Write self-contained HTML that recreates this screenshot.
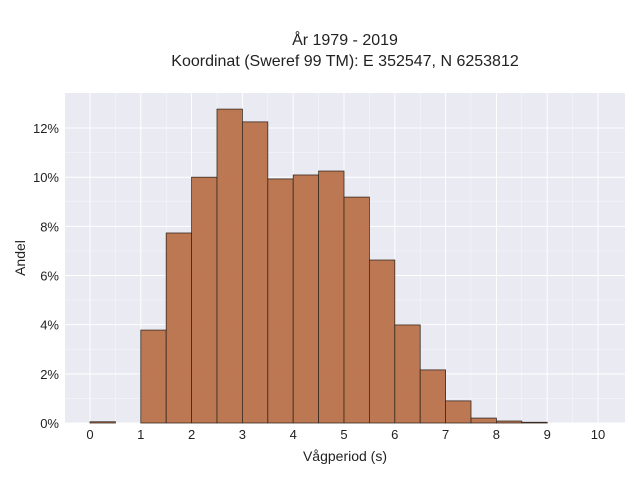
<!DOCTYPE html>
<html><head><meta charset="utf-8"><style>
body{margin:0;background:#fff;font-family:"Liberation Sans",sans-serif}
svg text{font-family:"Liberation Sans",sans-serif;fill:#222}
</style></head><body>
<svg width="640" height="480">
<text x="345" y="45" text-anchor="middle" font-size="16">År 1979 - 2019</text>
<text x="345" y="66" text-anchor="middle" font-size="16">Koordinat (Sweref 99 TM): E 352547, N 6253812</text>
<rect x="65" y="93" width="560" height="330" fill="#e9eaf2"/>
<g id="grid"></g><g id="bars"></g><g id="ticks"></g>
<text x="345" y="461" text-anchor="middle" font-size="14">Vågperiod (s)</text>
<text x="25" y="258" text-anchor="middle" font-size="14" transform="rotate(-90 25 258)">Andel</text>
</svg>
<script>
const binStarts=[0,0.5,1,1.5,2,2.5,3,3.5,4,4.5,5,5.5,6,6.5,7,7.5,8,8.5,9,9.5];
const shares=[0.05,0,3.78,7.73,10.0,12.77,12.25,9.93,10.09,10.25,9.19,6.63,3.99,2.16,0.9,0.2,0.08,0.03,0,0];
const xTicks=[0,1,2,3,4,5,6,7,8,9,10];
const yTicks=[0,2,4,6,8,10,12];
const binW=0.5;
const NS='http://www.w3.org/2000/svg';
const X=v=>90+v*50.8, Y=v=>423-v*24.58;
function mk(t,a,p){const e=document.createElementNS(NS,t);for(const k in a)e.setAttribute(k,a[k]);document.getElementById(p).appendChild(e);return e;}
for(let v=0.5;v<10.5;v+=1){const l=mk('line',{x1:X(v),x2:X(v),y1:93,y2:423,stroke:'#fff','stroke-width':0.5,opacity:0.7},'grid');}
for(let v=1;v<13;v+=2){const l=mk('line',{x1:65,x2:625,y1:Y(v),y2:Y(v),stroke:'#fff','stroke-width':0.5,opacity:0.7},'grid');}
xTicks.forEach(v=>{const l=mk('line',{x1:X(v),x2:X(v),y1:93,y2:423,stroke:'#fff','stroke-width':1},'grid');
const t=mk('text',{x:X(v),y:439,'text-anchor':'middle','font-size':13},'ticks');t.textContent=v;});
yTicks.forEach(v=>{const l=mk('line',{x1:65,x2:625,y1:Y(v),y2:Y(v),stroke:'#fff','stroke-width':1},'grid');
const t=mk('text',{x:59,y:Y(v)+5,'text-anchor':'end','font-size':13},'ticks');t.textContent=v+'%';});
binStarts.forEach((s,i)=>{if(shares[i]<=0)return;const r=mk('rect',{x:X(s),y:Y(shares[i]),width:X(s+binW)-X(s),height:Y(0)-Y(shares[i]),fill:'#b9714a','fill-opacity':0.95,stroke:'#3a2a20','stroke-width':0.8},'bars');});
</script>
</body></html>
